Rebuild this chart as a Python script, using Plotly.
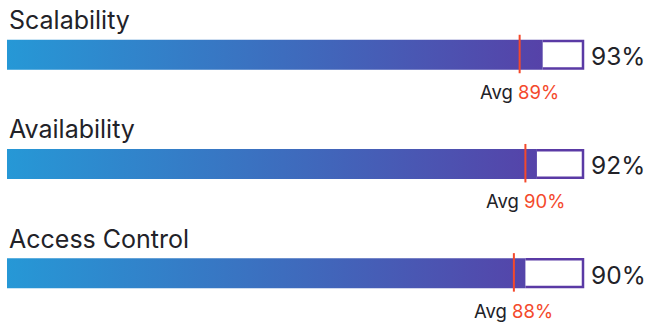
import plotly.graph_objects as go

# ---- data ----
categories = ["Scalability", "Availability", "Access Control"]
scores = [93, 92, 90]
averages = [89, 90, 88]
MAX_SCORE = 100

# ---- style / layout ----
W, H = 647, 326
X_LEFT_PX = 7
X_RIGHT_PX = 583
PX_PER_X = (X_RIGHT_PX - X_LEFT_PX) / MAX_SCORE
FIRST_CENTER_PX = 54.75
ROW_PX = 109.2

x_min = -X_LEFT_PX / PX_PER_X
x_max = x_min + W / PX_PER_X
y_min = -FIRST_CENTER_PX / ROW_PX
y_max = y_min + H / ROW_PX


def py(px):
    return px / ROW_PX


def pxx(px):
    return px / PX_PER_X


FONT = "Inter"
TEXT_COLOR = "#222228"
ACCENT = "#f4492c"
BORDER = "#5a3aa5"
GRAD = [[0, "#2698d6"], [0.5, "#3e6bbd"], [1, "#5a3ba5"]]

fig = go.Figure()
annotations = []

for i, (cat, v, a) in enumerate(zip(categories, scores, averages)):
    # remaining part of the 100% track (white with purple border)
    ht = py(13.8)
    fig.add_trace(go.Scatter(
        x=[v, MAX_SCORE, MAX_SCORE, v],
        y=[i - ht, i - ht, i + ht, i + ht],
        mode="lines", fill="toself", fillcolor="white",
        line=dict(color=BORDER, width=2.5),
        hoverinfo="skip", showlegend=False,
    ))
    # gradient value bar
    hb = py(15)
    fig.add_trace(go.Scatter(
        x=[0, v, v, 0, 0],
        y=[i - hb, i - hb, i + hb, i + hb, i - hb],
        mode="lines", fill="toself",
        fillgradient=dict(type="horizontal", colorscale=GRAD, start=0, stop=MAX_SCORE),
        line=dict(width=0, color="rgba(0,0,0,0)"),
        hoverinfo="skip", showlegend=False,
    ))
    # average marker
    fig.add_trace(go.Scatter(
        x=[a, a], y=[i - py(20), i + py(18.5)],
        mode="lines", line=dict(color=ACCENT, width=2),
        hoverinfo="skip", showlegend=False,
    ))
    # title
    annotations.append(dict(
        x=0, y=i - py(34.5), xref="x", yref="y", text=cat,
        xanchor="left", yanchor="middle", showarrow=False,
        font=dict(family=FONT, size=25, color=TEXT_COLOR),
    ))
    # value label
    annotations.append(dict(
        x=MAX_SCORE + pxx(6), y=i + py(1.5), xref="x", yref="y", text=f"{v}%",
        xanchor="left", yanchor="middle", showarrow=False,
        font=dict(family=FONT, size=24.5, color=TEXT_COLOR),
    ))
    # average label
    annotations.append(dict(
        x=a, y=i + py(37.5), xref="x", yref="y",
        text=f"Avg <span style='color:{ACCENT}'>{a}%</span>",
        xanchor="center", yanchor="middle", showarrow=False,
        font=dict(family=FONT, size=18.5, color=TEXT_COLOR),
    ))

fig.update_layout(
    width=W, height=H,
    margin=dict(l=0, r=0, t=0, b=0),
    paper_bgcolor="white", plot_bgcolor="white",
    xaxis=dict(range=[x_min, x_max], visible=False, fixedrange=True),
    yaxis=dict(range=[y_max, y_min], visible=False, fixedrange=True),
    annotations=annotations,
    showlegend=False,
)

fig.write_html(
    "out.html",
    config={"displayModeBar": False},
    post_script="document.body.style.margin='0';document.body.style.overflow='hidden';",
)
